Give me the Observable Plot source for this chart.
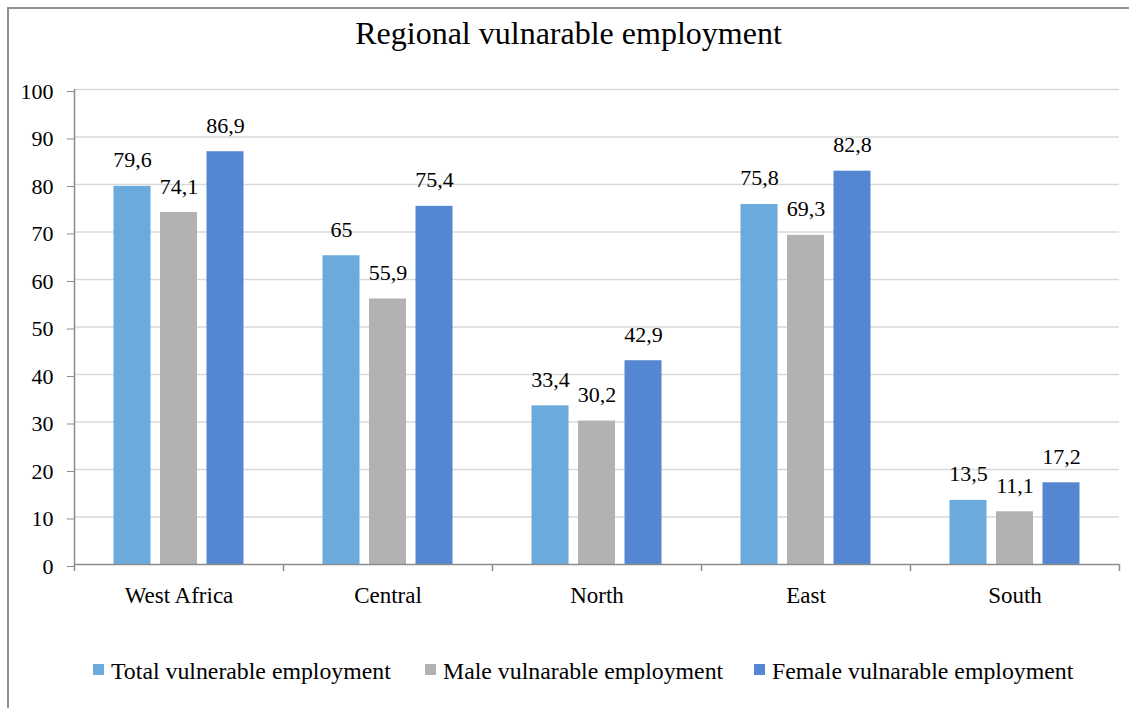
<!DOCTYPE html>
<html>
<head>
<meta charset="utf-8">
<script src="https://cdn.jsdelivr.net/npm/d3@7"></script>
<script src="https://cdn.jsdelivr.net/npm/@observablehq/plot@0.6"></script>
<style>
  html, body { margin: 0; padding: 0; background: #fff; overflow: hidden; }
  #page { position: relative; width: 1129px; height: 708px; overflow: hidden; font-family: "Liberation Serif", "Times New Roman", serif; color: #000; }
  #border { position: absolute; left: 7px; top: 7px; width: 1300px; height: 900px; border: 2px solid #8f8f8f; box-sizing: border-box; }
  #title { position: absolute; left: 8px; width: 1121px; top: 17px; text-align: center; font-size: 32px; line-height: 32px; }
  #chart { position: absolute; left: 0; top: 60px; }
  #chart svg text { font-family: "Liberation Serif", "Times New Roman", serif; }
  #legend { position: absolute; left: 0; top: 659px; width: 1129px; height: 30px; font-size: 23.8px; line-height: 24px; white-space: nowrap; }
  .item { position: absolute; top: 0; display: flex; align-items: center; }
  .swatch { width: 11px; height: 11px; margin-right: 7px; position: relative; top: -2px; }
</style>
</head>
<body>
<div id="page">
  <div id="border"></div>
  <div id="title">Regional vulnarable employment</div>
  <div id="chart"></div>
  <div id="legend"></div>
</div>
<script>
// Regions along the horizontal axis
const regions = ["West Africa", "Central", "North", "East", "South"];

// Series names (as shown in the legend)
const seriesNames = [
  "Total vulnerable employment",
  "Male vulnarable employment",
  "Female vulnarable employment"
];
const seriesColors = ["#6aaadc", "#b2b2b2", "#5586d1"];

// Vulnerable employment share (%) per region
const total  = [79.6, 65, 33.4, 75.8, 13.5];
const male   = [74.1, 55.9, 30.2, 69.3, 11.1];
const female = [86.9, 75.4, 42.9, 82.8, 17.2];

// Value axis ticks
const yTicks = [0, 10, 20, 30, 40, 50, 60, 70, 80, 90, 100];

const rows = regions.map((region, i) => ({region, total: total[i], male: male[i], female: female[i]}));
const keys = ["total", "male", "female"];

// Layout
const width = 1129, height = 560;
const marginLeft = 74, marginRight = 10, marginTop = 29, marginBottom = 56;
const band = (width - marginLeft - marginRight) / regions.length;
const barW = 37, step = 46.5;
const legendLeft = [93, 425, 754];

const fmt = v => String(v).replace(".", ",");
const font = "Liberation Serif";
const axisGray = "#8c8c8c";

const marks = [
  Plot.gridY(yTicks.slice(1), {stroke: "#d9d9d9", strokeOpacity: 1, strokeWidth: 1.5})
];

keys.forEach((k, j) => {
  const offset = (j - 1) * step;                 // bar centre relative to band centre
  const left = band / 2 + offset - barW / 2;
  const right = band - left - barW;
  marks.push(
    Plot.barY(rows, {x: "region", y: k, fill: seriesColors[j], insetLeft: left, insetRight: right}),
    Plot.text(rows, {x: "region", y: k, text: d => fmt(d[k]), dx: offset, dy: -26,
                     fontSize: 22, fontFamily: font, fill: "#000"})
  );
});

marks.push(
  // value axis line
  Plot.ruleX([regions[0]], {x: d => d, y1: 0, y2: 100, dx: -band / 2, stroke: axisGray, strokeWidth: 1.5}),
  // category axis line
  Plot.ruleY([0], {stroke: axisGray, strokeWidth: 1.5}),
  // tick marks at the category boundaries
  Plot.ruleX(regions, {x: d => d, y1: 0, y2: 0, dx: -band / 2, insetBottom: -7, stroke: axisGray, strokeWidth: 1.5}),
  Plot.ruleX([regions[regions.length - 1]], {x: d => d, y1: 0, y2: 0, dx: band / 2, insetBottom: -7, stroke: axisGray, strokeWidth: 1.5}),
  Plot.axisY({ticks: yTicks, tickSize: 7, tickPadding: 14, fontSize: 22, fontFamily: font, stroke: axisGray, fill: "#000", dy: 2, label: null}),
  Plot.axisX({tickSize: 0, tickPadding: 22, fontSize: 23, fontFamily: font, fill: "#000", label: null})
);

const chart = Plot.plot({
  width, height, marginLeft, marginRight, marginTop, marginBottom,
  style: {fontFamily: font, background: "transparent", color: "#000"},
  x: {domain: regions, padding: 0, label: null},
  y: {domain: [0, 100], label: null},
  marks
});
document.getElementById("chart").appendChild(chart);

// Legend
const legend = d3.select("#legend");
seriesNames.forEach((name, j) => {
  const item = legend.append("div").attr("class", "item").style("left", legendLeft[j] + "px");
  item.append("div").attr("class", "swatch").style("background", seriesColors[j]);
  item.append("span").text(name);
});
</script>
</body>
</html>
